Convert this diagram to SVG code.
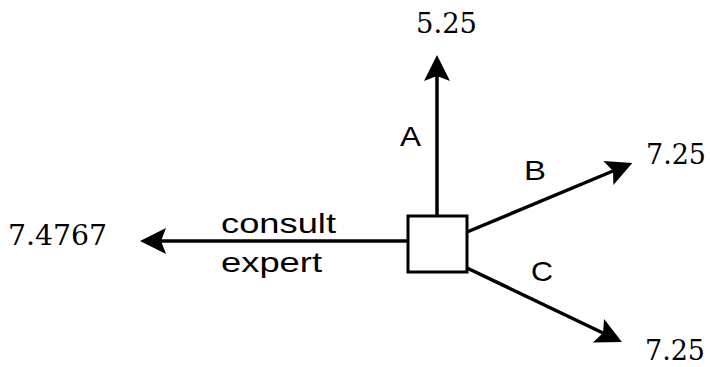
<svg xmlns="http://www.w3.org/2000/svg" width="710" height="367" viewBox="0 0 710 367">
<style>
.l{font-family:"Liberation Sans",Arial,sans-serif;font-size:28px;fill:#000}
.v{font-family:"DejaVu Serif",serif;font-size:28px;fill:#000}
.c{stroke:#000;stroke-width:3.5;fill:none}
</style>
<defs>
<marker id="ah" markerUnits="userSpaceOnUse" viewBox="-10 -15 35 30" markerWidth="35" markerHeight="30" refX="0" refY="0" orient="auto" overflow="visible">
<path d="M21,0 L-5,-13 L0,0 L-5,13 z" fill="#000"/>
</marker>
</defs>
<rect width="710" height="367" fill="#fff"/>
<g id="connectors">
<line class="c" x1="437" y1="216" x2="437" y2="76" marker-end="url(#ah)"/>
<line class="c" x1="408" y1="241" x2="161" y2="241" marker-end="url(#ah)"/>
<line class="c" x1="467" y1="232" x2="613" y2="171" marker-end="url(#ah)"/>
<line class="c" x1="467" y1="268" x2="603" y2="333" marker-end="url(#ah)"/>
<text class="l" x="400" y="146" textLength="21" lengthAdjust="spacingAndGlyphs">A</text>
<text class="l" x="524" y="180" textLength="22" lengthAdjust="spacingAndGlyphs">B</text>
<text class="l" x="531" y="281" textLength="22" lengthAdjust="spacingAndGlyphs">C</text>
<text class="l" x="221" y="233" textLength="115" lengthAdjust="spacingAndGlyphs">consult</text>
<text class="l" x="221" y="272" textLength="101" lengthAdjust="spacingAndGlyphs">expert</text>
</g>
<g id="decision">
<rect x="408" y="216" width="59" height="56" fill="#fff" stroke="#000" stroke-width="3"/>
</g>
<g id="outA"><text class="v" x="416" y="33" textLength="61" lengthAdjust="spacingAndGlyphs">5.25</text></g>
<g id="outB"><text class="v" x="646" y="164" textLength="60" lengthAdjust="spacingAndGlyphs">7.25</text></g>
<g id="outC"><text class="v" x="645" y="360" textLength="60" lengthAdjust="spacingAndGlyphs">7.25</text></g>
<g id="outConsult"><text class="v" x="8" y="245" textLength="99" lengthAdjust="spacingAndGlyphs">7.4767</text></g>
</svg>
